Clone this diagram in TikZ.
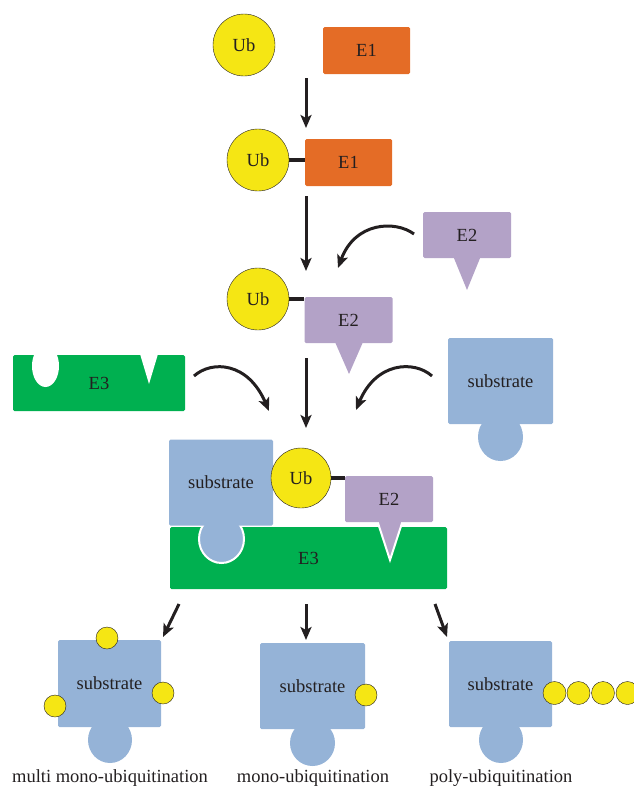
\documentclass[tikz,border=0pt]{standalone}
\usepackage{fontspec}
\setmainfont{Liberation Serif}
\usetikzlibrary{arrows.meta}

\definecolor{ubyellow}{HTML}{F5E614}
\definecolor{eoneorange}{HTML}{E46C26}
\definecolor{etwopurple}{HTML}{B3A2C7}
\definecolor{ethreegreen}{HTML}{00B050}
\definecolor{subblue}{HTML}{95B3D7}
\definecolor{inkblack}{HTML}{231F20}

\begin{document}
\begin{tikzpicture}[x=1pt,y=-1pt,
      every node/.style={font=\fontsize{18.5}{20}\selectfont,text=inkblack},
      ub/.style={circle,draw=inkblack,fill=ubyellow,inner sep=0pt,minimum size=62pt},
      ubsmall/.style={circle,draw=inkblack,fill=ubyellow,inner sep=0pt,minimum size=22pt},
      box/.style={rectangle,rounded corners=1.5pt,inner sep=0pt},
      eone/.style={box,fill=eoneorange,minimum width=87pt,minimum height=47pt},
      etwo/.style={box,fill=etwopurple,minimum width=88pt,minimum height=46pt},
      ethree/.style={box,fill=ethreegreen},
      subbox/.style={box,fill=subblue,minimum width=104pt,minimum height=86pt},
      link/.style={inkblack,line width=4pt},
      flow/.style={inkblack,line width=3pt,-{Stealth[length=13pt,width=11pt,inset=3pt]}}]
   \useasboundingbox (0,0) rectangle (633,787);

   % free Ub and E1
   \node [ub] (ubfree) at (244,45) {Ub};
   \node [eone] (eonefree) at (366.5,50.5) {E1};

   % Ub loaded on E1
   \node [eone] (eoneub) at (348.5,162.5) {E1};
   \node [ub] (ubone) at (258,160) {Ub};
   \draw [link] (ubone.east) -- (ubone.east -| eoneub.west);

   % free E2
   \fill [etwopurple] 
      (453.5,257) -- (480.5,257) -- (467,290) -- cycle;
   \node [etwo] (etwofree) at (467,235) {E2};

   % Ub loaded on E2
   \fill [etwopurple] 
      (335,342) -- (363,342) -- (349,374) -- cycle;
   \node [etwo] (etwoub) at (348.5,320) {E2};
   \node [ub] (ubtwo) at (258,299) {Ub};
   \draw [link] (ubtwo.east) -- (ubtwo.east -| etwoub.west);

   % free E3 with its two pockets
   \node [ethree,minimum width=172pt,minimum height=56pt] (ethreefree) at (99,383) {E3};
   \fill [white] (45.5,366) ellipse [x radius=13.5,y radius=21];
   \fill [white] (140,354) -- (158,354) -- (149,384) -- cycle;

   % free substrate
   \fill [subblue] (500.5,437) ellipse [x radius=22.5,y radius=24];
   \node [subbox,minimum width=105pt] (subfree) at (500.5,381) {substrate};

   % assembled complex
   \node [ethree,minimum width=277pt,minimum height=62pt] (ethreeall) at (308.5,558) {};
   \filldraw [fill=subblue,draw=white,line width=2pt] (221.5,539) ellipse [x radius=22.5,y radius=24];
   \node [subbox] (suball) at (221,482.5) {substrate};
   \filldraw [fill=etwopurple,draw=white,line width=2pt,line join=miter] 
      (377,520) -- (403,520) -- (390,560) -- cycle;
   \node [etwo] (etwoall) at (389,499) {E2};
   \node [ub,minimum size=60pt] (uball) at (301,478) {Ub};
   \draw [link] (uball.east) -- (uball.east -| etwoall.west);
   \node at (ethreeall.center) {E3};

   % multi mono-ubiquitination
   \fill [subblue] (110,740) ellipse [x radius=22,y radius=23];
   \node [subbox,minimum width=103pt,minimum height=87pt] (submulti) at (109.5,683.5) {substrate};
   \node [ubsmall] (ubmultia) at (107,638) {};
   \node [ubsmall] (ubmultib) at (163,693) {};
   \node [ubsmall] (ubmultic) at (55,706) {};

   % mono-ubiquitination
   \fill [subblue] (312.5,743) ellipse [x radius=22.5,y radius=23];
   \node [subbox,minimum width=105pt] (submono) at (312.5,686) {substrate};
   \node [ubsmall] (ubmono) at (366,695) {};

   % poly-ubiquitination
   \fill [subblue] (501,740) ellipse [x radius=22,y radius=23];
   \node [subbox,minimum width=103pt] (subpoly) at (500.5,684) {substrate};
   \foreach \i/\x in {1/554.5,2/578.5,3/603,4/627.5}
      \node [ubsmall,minimum size=23pt] (ubpoly\i) at (\x,693) {};

   % labels
   \node (labmulti) at (110,778) {multi mono-ubiquitination};
   \node (labmono) at (313,778) {mono-ubiquitination};
   \node (labpoly) at (501,778) {poly-ubiquitination};

   % arrows
   \coordinate (aones) at (306,78);
   \coordinate (aonee) at (306,128);
   \coordinate (atwos) at (306,196);
   \coordinate (atwoe) at (306,271);
   \coordinate (bones) at (414,234);
   \coordinate (bonee) at (338,268);
   \coordinate (athrees) at (306,358);
   \coordinate (athreee) at (306,428);
   \coordinate (btwos) at (194,376);
   \coordinate (btwoe) at (269,411);
   \coordinate (bthrees) at (432,376);
   \coordinate (bthreee) at (356,410);
   \coordinate (cones) at (179,604);
   \coordinate (conee) at (163,637);
   \coordinate (ctwos) at (306,604);
   \coordinate (ctwoe) at (306,640);
   \coordinate (cthrees) at (435,604);
   \coordinate (cthreee) at (447,637);

   \draw [flow] (aones) -- (aonee);
   \draw [flow] (atwos) -- (atwoe);
   \draw [flow] (bones) .. controls (395,220) and (355,222) .. (bonee);
   \draw [flow] (athrees) -- (athreee);
   \draw [flow] (btwos) .. controls (212,360) and (248,362) .. (btwoe);
   \draw [flow] (bthrees) .. controls (414,360) and (376,362) .. (bthreee);
   \draw [flow] (cones) -- (conee);
   \draw [flow] (ctwos) -- (ctwoe);
   \draw [flow] (cthrees) -- (cthreee);
\end{tikzpicture}
\end{document}
